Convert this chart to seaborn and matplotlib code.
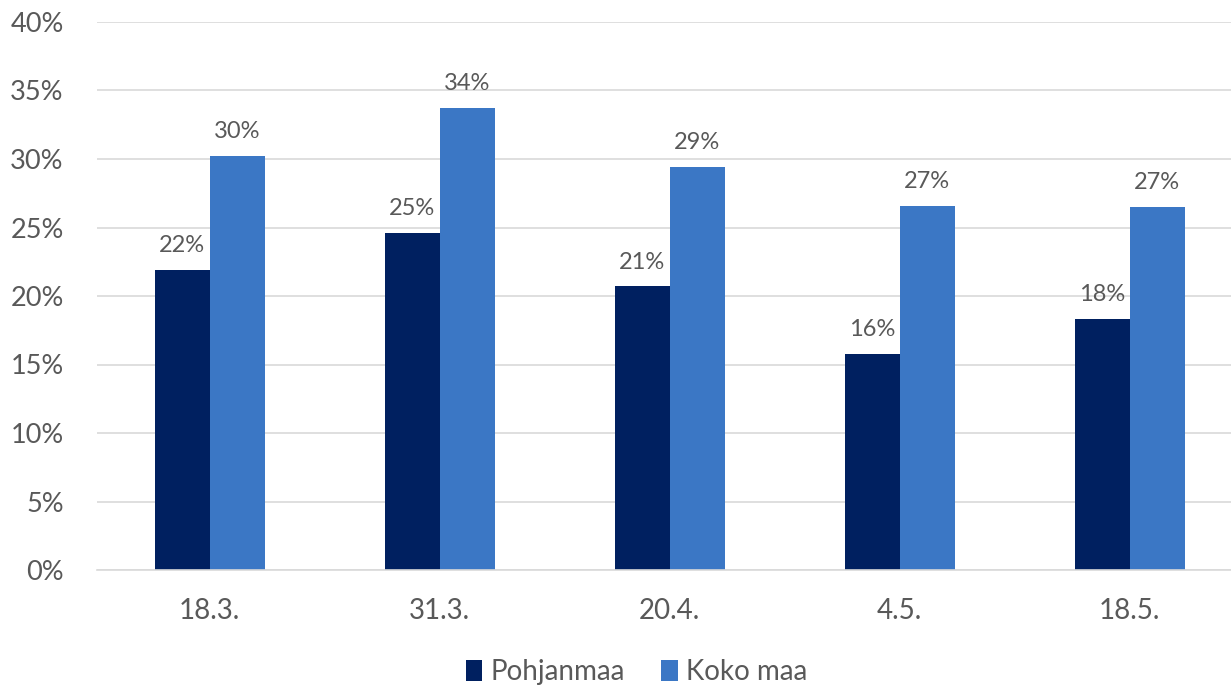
import pandas as pd
import matplotlib.pyplot as plt
import seaborn as sns
from matplotlib.ticker import PercentFormatter

# Data
dates = ['18.3.', '31.3.', '20.4.', '4.5.', '18.5.']
series = ['Pohjanmaa', 'Koko maa']
pohjanmaa = [21.9, 24.6, 20.7, 15.8, 18.3]
koko_maa = [30.2, 33.7, 29.4, 26.6, 26.5]
labels_pohjanmaa = ['22%', '25%', '21%', '16%', '18%']
labels_koko_maa = ['30%', '34%', '29%', '27%', '27%']

df = pd.DataFrame({
    'date': dates * 2,
    'series': [series[0]] * len(dates) + [series[1]] * len(dates),
    'value': pohjanmaa + koko_maa,
})

sns.set_style('white')
plt.rcParams['font.family'] = ['Lato', 'DejaVu Sans']
text_color = '#595959'

fig = plt.figure(figsize=(12.31, 6.88), dpi=100)
ax = fig.add_axes([97 / 1231, 1 - 570 / 688, (1231 - 97) / 1231, (570 - 22) / 688])

palette = {'Pohjanmaa': '#002060', 'Koko maa': '#3B77C5'}
sns.barplot(data=df, x='date', y='value', hue='series', order=dates,
            hue_order=series, palette=palette, width=0.48, saturation=1,
            linewidth=0, ax=ax, legend=True)

for container, labels in zip(ax.containers, [labels_pohjanmaa, labels_koko_maa]):
    ax.bar_label(container, labels=labels, padding=10, fontsize=17, color=text_color)

ax.set_ylim(0, 40)
ax.set_xlim(-0.49, 4.44)
ax.set_yticks(range(0, 41, 5))
ax.yaxis.set_major_formatter(PercentFormatter(decimals=0))
ax.yaxis.grid(True, color='#D9D9D9', linewidth=1.2)
ax.set_axisbelow(True)
ax.set_xlabel('')
ax.set_ylabel('')
ax.tick_params(axis='y', labelsize=19.5, colors=text_color, length=0, pad=24)
ax.tick_params(axis='x', labelsize=20, colors=text_color, length=0, pad=20)
for side in ['top', 'right', 'left']:
    ax.spines[side].set_visible(False)
ax.spines['bottom'].set_color('#D9D9D9')
ax.spines['bottom'].set_linewidth(1.2)

handles, lbls = ax.get_legend_handles_labels()
ax.legend_.remove()
fig.legend(handles, lbls, loc='center', bbox_to_anchor=(0.517, 1 - 672 / 688),
           ncol=2, frameon=False, fontsize=20, labelcolor=text_color,
           handlelength=0.6, handleheight=0.8, handletextpad=0.3, columnspacing=1.3)

plt.savefig('out.png', dpi=100)
plt.close()
